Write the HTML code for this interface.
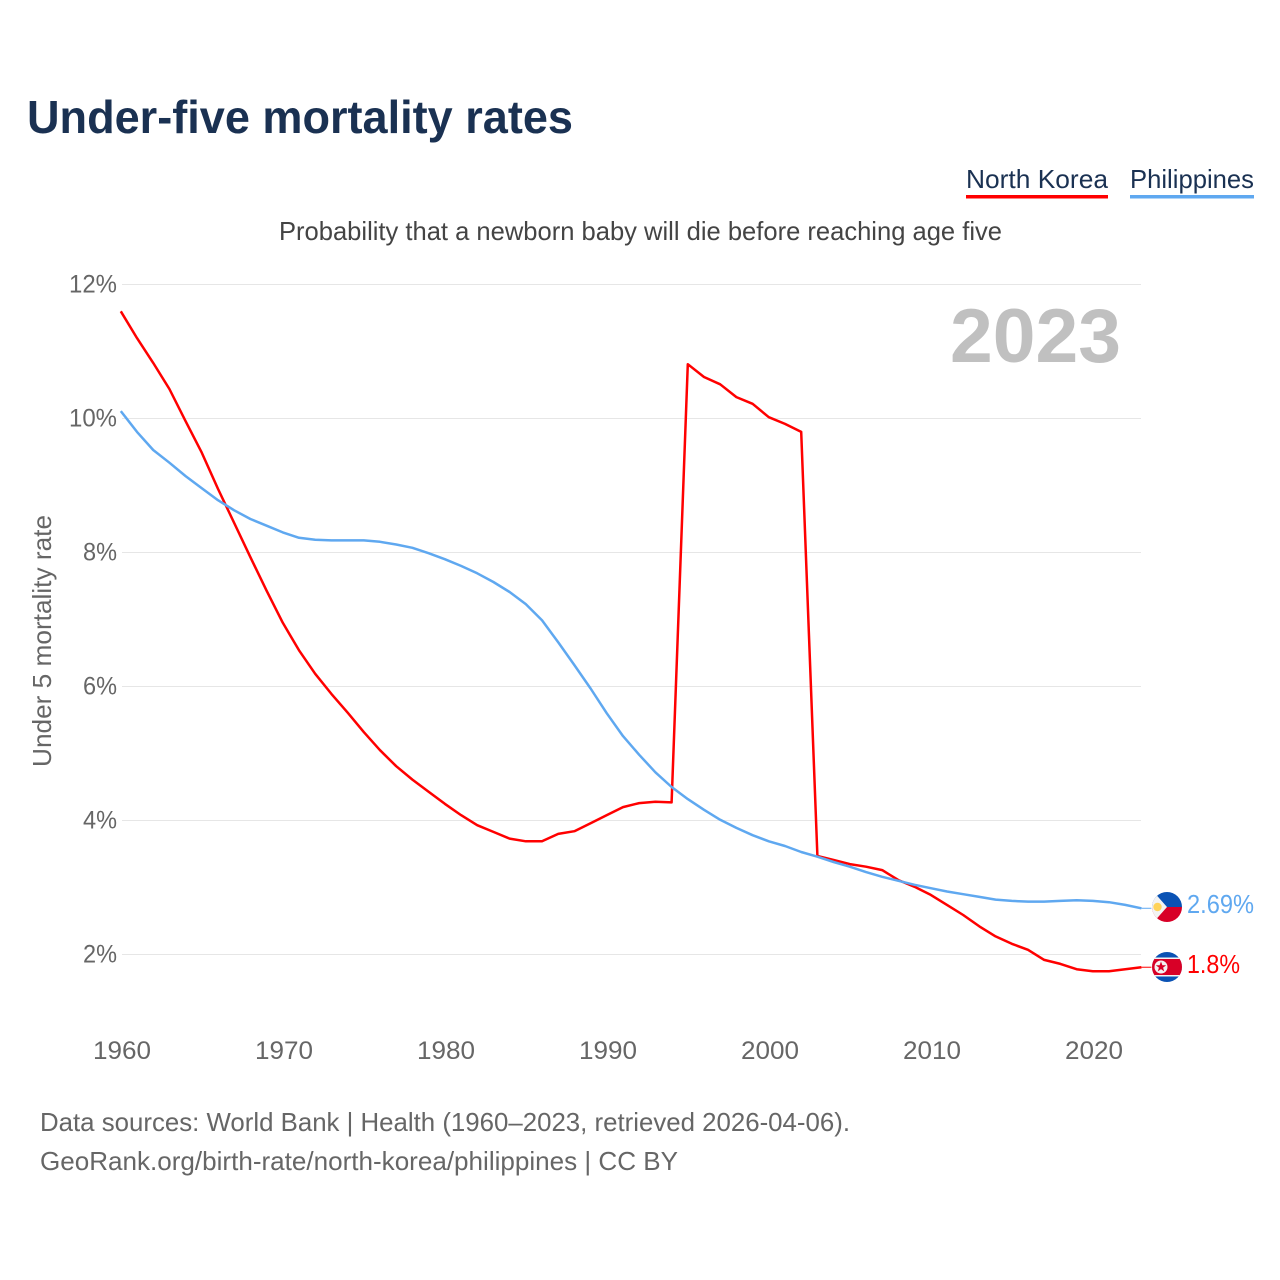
<!DOCTYPE html>
<html lang="en">
<head>
<meta charset="utf-8">
<title>Under-five mortality rates</title>
<style>
html,body{margin:0;padding:0;background:#fff;width:1280px;height:1280px;overflow:hidden}
svg{display:block}
text{font-family:"Liberation Sans",sans-serif}
</style>
</head>
<body>
<svg id="chart" xmlns="http://www.w3.org/2000/svg" width="1280" height="1280" viewBox="0 0 1280 1280">
  <text x="27" y="133" font-size="46" font-weight="700" fill="#1a3152" textLength="546" lengthAdjust="spacingAndGlyphs">Under-five mortality rates</text>

  <g>
    <g>
      <text x="966" y="188" font-size="26" fill="#1a3152" textLength="142" lengthAdjust="spacingAndGlyphs">North Korea</text>
      <rect x="966" y="195" width="142" height="3.5" fill="#ff0000"></rect>
    </g>
    <g>
      <text x="1130" y="188" font-size="26" fill="#1a3152" textLength="124" lengthAdjust="spacingAndGlyphs">Philippines</text>
      <rect x="1130" y="195" width="124" height="3.5" fill="#5fa8f0"></rect>
    </g>
  </g>

  <text x="279" y="240" font-size="26" fill="#444444" textLength="723" lengthAdjust="spacingAndGlyphs">Probability that a newborn baby will die before reaching age five</text>

  <g id="grid"></g>
  <g id="yticks"></g>
  <g id="xticks"></g>

  <text transform="translate(51,641) rotate(-90)" text-anchor="middle" font-size="26" fill="#666666" textLength="252" lengthAdjust="spacingAndGlyphs">Under 5 mortality rate</text>

  <text x="950" y="362" font-size="76" font-weight="700" fill="#c0c0c0" textLength="171" lengthAdjust="spacingAndGlyphs">2023</text>

  <g id="series"></g>

  <g>
    <clipPath id="clipPh"><circle cx="1167" cy="907" r="15"></circle></clipPath>
    <g clip-path="url(#clipPh)">
      <rect x="1152" y="892" width="30" height="15" fill="#0a52b4"></rect>
      <rect x="1152" y="907" width="30" height="15" fill="#d80027"></rect>
      <polygon points="1152,890 1152,924 1167,907" fill="#f3f3f3"></polygon>
      <circle cx="1157.5" cy="907" r="4.2" fill="#ffd35a"></circle>
    </g>
  </g>
  <g>
    <clipPath id="clipKp"><circle cx="1167" cy="967" r="15"></circle></clipPath>
    <g clip-path="url(#clipKp)">
      <rect x="1152" y="952" width="30" height="30" fill="#0a52b4"></rect>
      <rect x="1152" y="957.5" width="30" height="19" fill="#f3f3f3"></rect>
      <rect x="1152" y="959" width="30" height="16" fill="#d80027"></rect>
      <circle cx="1161" cy="967" r="6.5" fill="#f3f3f3"></circle>
      <polygon points="1161,961.5 1162.4,965.2 1166.2,965.2 1163.1,967.6 1164.2,971.4 1161,969.1 1157.8,971.4 1158.9,967.6 1155.8,965.2 1159.6,965.2" fill="#d80027"></polygon>
    </g>
  </g>

  <text x="1187" y="913" font-size="26" fill="#5fa8f0" textLength="67" lengthAdjust="spacingAndGlyphs">2.69%</text>
  <text x="1187" y="973" font-size="26" fill="#ff0000" textLength="53" lengthAdjust="spacingAndGlyphs">1.8%</text>

  <text x="40" y="1131" font-size="26" fill="#666666" textLength="810" lengthAdjust="spacingAndGlyphs">Data sources: World Bank | Health (1960–2023, retrieved 2026-04-06).</text>
  <text x="40" y="1170" font-size="26" fill="#666666" textLength="638" lengthAdjust="spacingAndGlyphs">GeoRank.org/birth-rate/north-korea/philippines | CC BY</text>
</svg>
<script>
const startYear = 1960;
const yTickValues = [2, 4, 6, 8, 10, 12];
const yTickLabels = ['2%', '4%', '6%', '8%', '10%', '12%'];
const xTickYears = [1960, 1970, 1980, 1990, 2000, 2010, 2020];
const northKorea = [11.60,11.20,10.83,10.44,9.96,9.49,8.95,8.44,7.93,7.43,6.95,6.54,6.19,5.89,5.61,5.32,5.05,4.81,4.61,4.43,4.25,4.08,3.93,3.83,3.73,3.69,3.69,3.80,3.84,3.96,4.08,4.20,4.26,4.28,4.27,10.81,10.62,10.51,10.32,10.22,10.02,9.92,9.80,3.47,3.41,3.35,3.31,3.26,3.11,3.01,2.89,2.74,2.59,2.42,2.27,2.16,2.07,1.92,1.86,1.78,1.75,1.75,1.78,1.81];
const philippines = [10.11,9.80,9.53,9.34,9.14,8.96,8.78,8.63,8.50,8.40,8.30,8.22,8.19,8.18,8.18,8.18,8.16,8.12,8.07,7.99,7.90,7.80,7.69,7.56,7.41,7.23,6.99,6.66,6.32,5.97,5.60,5.26,4.98,4.72,4.50,4.32,4.16,4.01,3.89,3.78,3.69,3.62,3.53,3.46,3.38,3.31,3.23,3.16,3.10,3.04,2.99,2.94,2.90,2.86,2.82,2.80,2.79,2.79,2.80,2.81,2.80,2.78,2.74,2.69];

const NS = 'http://www.w3.org/2000/svg';
function xScale(year) { return 120.8 + (year - 1960) * 16.2; }
function yScale(value) { return 284.5 + (12 - value) * 67; }
function make(tag, attrs, text) {
  const el = document.createElementNS(NS, tag);
  Object.keys(attrs).forEach(function (k) { el.setAttribute(k, attrs[k]); });
  if (text !== undefined) el.textContent = text;
  return el;
}

const grid = document.getElementById('grid');
const yticks = document.getElementById('yticks');
yTickValues.forEach(function (v, i) {
  const line = make('line', { x1: 122, x2: 1141, y1: yScale(v), y2: yScale(v), stroke: '#e6e6e6', 'stroke-width': 1 });
  
  
  grid.appendChild(line);
  const label = make('text', { x: 117, y: yScale(v) + 8, 'text-anchor': 'end', 'font-size': 25, fill: '#666666', textLength: yTickLabels[i].length === 3 ? 48 : 34, lengthAdjust: 'spacingAndGlyphs' }, yTickLabels[i]);
  
  
  yticks.appendChild(label);
});

const xticks = document.getElementById('xticks');
xTickYears.forEach(function (yr) {
  const label = make('text', { x: xScale(yr) + 1.2, y: 1059, 'text-anchor': 'middle', 'font-size': 25, fill: '#666666', textLength: 58, lengthAdjust: 'spacingAndGlyphs' }, String(yr));
  
  
  xticks.appendChild(label);
});

function drawSeries(values, color, name) {
  const group = document.getElementById('series');
  const pts = values.map(function (v, i) { return xScale(startYear + i).toFixed(1) + ',' + yScale(v).toFixed(1); });
  const line = make('polyline', { points: pts.join(' '), fill: 'none', stroke: color, 'stroke-width': 2.5, 'stroke-linejoin': 'round' });
  
  
  group.appendChild(line);
  const lastY = yScale(values[values.length - 1]);
  const lastX = xScale(startYear + values.length - 1);
  const stub = make('line', { x1: lastX, x2: lastX + 10, y1: lastY, y2: lastY, stroke: color, 'stroke-width': 1 });
  
  
  group.appendChild(stub);
}
drawSeries(northKorea, '#ff0000', 'line-north-korea');
drawSeries(philippines, '#5fa8f0', 'line-philippines');
</script>
</body>
</html>
